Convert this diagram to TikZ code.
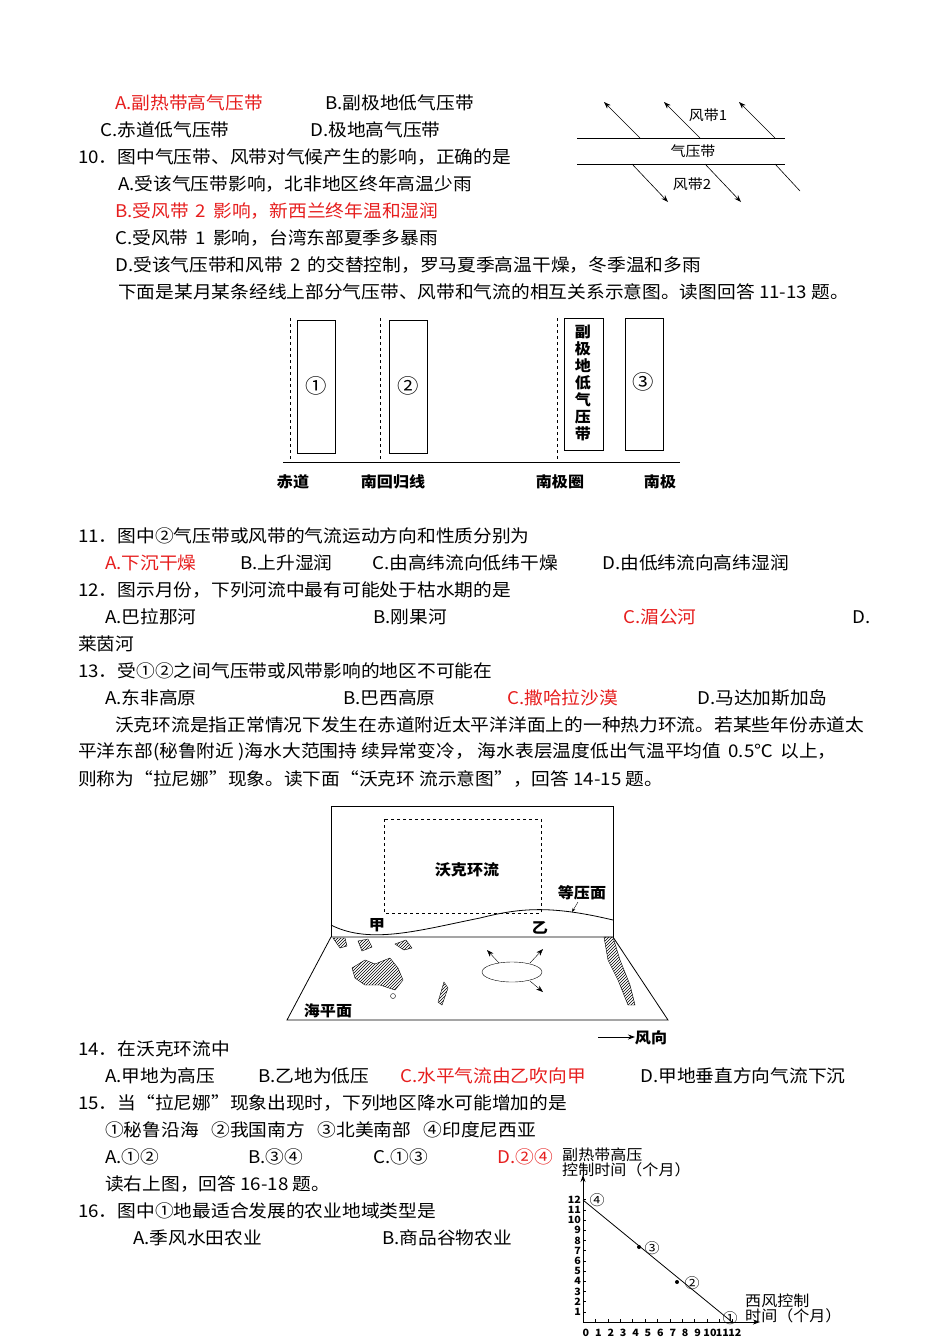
\documentclass[tikz,border=0pt]{standalone}
\usepackage{fontspec}
\setmainfont{Noto Sans CJK SC}[FakeStretch=1.07]
\usetikzlibrary{arrows.meta,patterns}
\definecolor{ans}{RGB}{230,30,30}
\begin{document}
\begin{tikzpicture}[x=1pt,y=-1pt,
 t/.style={anchor=west,inner sep=0,font=\fontsize{17.5}{17.5}\selectfont},
 r/.style={t,text=ans},
 lbl/.style={inner sep=0,font=\fontsize{15}{15}\selectfont\bfseries},
 sm/.style={inner sep=0,font=\fontsize{14}{14}\selectfont},
 arr/.style={-{Stealth[length=7pt,width=5pt]},line width=0.6pt},
 bx/.style={draw,line width=1pt},
 hat/.style={draw,pattern=north east lines}]
\useasboundingbox (0,0) rectangle (950,1342);
% text
\node[r] (a1) at (115,103) {A.副热带高气压带};
\node[t] (b1) at (325,103) {B.副极地低气压带};
\node[t] (c1) at (100,130) {C.赤道低气压带};
\node[t] (d1) at (310,130) {D.极地高气压带};
\node[t] (q10) at (78,157) {10．图中气压带、风带对气候产生的影响，正确的是};
\node[t] (q10a) at (118,184) {A.受该气压带影响，北非地区终年高温少雨};
\node[r] (q10b) at (115,211) {B.受风带 \,2\, 影响，新西兰终年温和湿润};
\node[t] (q10c) at (115,238) {C.受风带 \,1\, 影响，台湾东部夏季多暴雨};
\node[t] (q10d) at (115,265) {D.受该气压带和风带 \,2\, 的交替控制，罗马夏季高温干燥，冬季温和多雨};
\node[t] (intro) at (118,292) {下面是某月某条经线上部分气压带、风带和气流的相互关系示意图。读图回答 11-13 题。};
\node[t] (q11) at (78,536) {11．图中②气压带或风带的气流运动方向和性质分别为};
\node[r] (q11a) at (105,563) {A.下沉干燥};
\node[t] (q11b) at (240,563) {B.上升湿润};
\node[t] (q11c) at (372,563) {C.由高纬流向低纬干燥};
\node[t] (q11d) at (602,563) {D.由低纬流向高纬湿润};
\node[t] (q12) at (78,590) {12．图示月份，下列河流中最有可能处于枯水期的是};
\node[t] (q12a) at (105,617) {A.巴拉那河};
\node[t] (q12b) at (373,617) {B.刚果河};
\node[r] (q12c) at (623,617) {C.湄公河};
\node[t] (q12d) at (852,617) {D.};
\node[t] (q12e) at (78,644) {莱茵河};
\node[t] (q13) at (78,671) {13．受①②之间气压带或风带影响的地区不可能在};
\node[t] (q13a) at (105,698) {A.东非高原};
\node[t] (q13b) at (343,698) {B.巴西高原};
\node[r] (q13c) at (507,698) {C.撒哈拉沙漠};
\node[t] (q13d) at (697,698) {D.马达加斯加岛};
\node[t] (p1) at (115,725) {沃克环流是指正常情况下发生在赤道附近太平洋洋面上的一种热力环流。若某些年份赤道太};
\node[t] (p2) at (78,752) {平洋东部(秘鲁附近 )海水大范围持 续异常变冷， 海水表层温度低出气温平均值 \,0.5℃\, 以上，};
\node[t] (p3) at (78,779) {则称为“拉尼娜”现象。读下面“沃克环 流示意图”，回答 14-15 题。};
\node[t] (q14) at (78,1049) {14．在沃克环流中};
\node[t] (q14a) at (105,1076) {A.甲地为高压};
\node[t] (q14b) at (258,1076) {B.乙地为低压};
\node[r] (q14c) at (400,1076) {C.水平气流由乙吹向甲};
\node[t] (q14d) at (640,1076) {D.甲地垂直方向气流下沉};
\node[t] (q15) at (78,1103) {15．当“拉尼娜”现象出现时，下列地区降水可能增加的是};
\node[t] (q15x) at (105,1130) {①秘鲁沿海 \ \ ②我国南方 \ \ ③北美南部 \ \ ④印度尼西亚};
\node[t] (q15a) at (105,1157) {A.①②};
\node[t] (q15b) at (248,1157) {B.③④};
\node[t] (q15c) at (373,1157) {C.①③};
\node[r] (q15d) at (497,1157) {D.②④};
\node[t] (rd) at (105,1184) {读右上图，回答 16-18 题。};
\node[t] (q16) at (78,1211) {16．图中①地最适合发展的农业地域类型是};
\node[t] (q16a) at (133,1238) {A.季风水田农业};
\node[t] (q16b) at (382,1238) {B.商品谷物农业};
% fig 1
\draw[line width=1pt] (577,138) -- (785,138) (577,164) -- (785,164);
\coordinate (u1) at (640,138); \coordinate (u2) at (700,138); \coordinate (u3) at (775,138);
\coordinate (l1) at (632,164); \coordinate (l2) at (705,164); \coordinate (l3) at (775,164);
\foreach \c in {u1,u2,u3} \draw[arr] (\c) -- ++(-36,-36);
\foreach \c in {l1,l2} \draw[arr] (\c) -- ++(36,38);
\draw[line width=0.6pt] (l3) -- ++(25,27);
\node[sm] (wb1) at (708,115) {风带1};
\node[sm] (pb) at (693,151) {气压带};
\node[sm] (wb2) at (692,184) {风带2};
% fig 2
\draw[bx] (297,320) rectangle (335,453); \node[font=\fontsize{20}{20}\selectfont] (n1) at (316,386) {①};
\draw[bx] (389,320) rectangle (427,453); \node[font=\fontsize{20}{20}\selectfont] (n2) at (408,386) {②};
\draw[bx] (564,318) rectangle (603,450);
\node[inner sep=0,font=\fontsize{15}{17}\selectfont\bfseries,align=center] (sp) at (583,383) {副\\极\\地\\低\\气\\压\\带};
\draw[bx] (625,318) rectangle (663,450); \node[font=\fontsize{20}{20}\selectfont] (n3) at (643,382) {③};
\draw[line width=1pt] (283,462) -- (680,462);
\draw[dashed] (290,318) -- (290,460) (380,318) -- (380,460) (557,318) -- (557,460);
\node[lbl] (e0) at (293,482) {赤道};
\node[lbl] (e1) at (393,482) {南回归线};
\node[lbl] (e2) at (560,482) {南极圈};
\node[lbl] (e3) at (660,482) {南极};
% fig 3 walker
\draw[line width=0.8pt] (331,937) -- (331,806) -- (613,806) -- (613,937);
\draw[dashed] (384,819) rectangle (541,913);
\node[lbl] (wk) at (467,870) {沃克环流};
\draw[line width=0.8pt] (331,925) .. controls (370,945) and (420,930) .. (480,918) .. controls (520,908) and (550,905) .. (613,920);
\node[lbl] (eq) at (582,893) {等压面};
\draw[-{Stealth[length=4pt]}] (578,902) -- (572,912);
\node[lbl] (jia) at (377,925) {甲};
\node[lbl] (yi) at (540,928) {乙};
\draw[line width=0.8pt] (331,937) -- (613,937) -- (668,1020) -- (287,1020) -- cycle;
\draw (512,972) ellipse (30 and 10);
\draw[arr,line width=0.4pt] (499,963) -- (487,950);
\draw[arr,line width=0.4pt] (530,963) -- (543,949);
\draw[arr,line width=0.4pt] (530,981) -- (543,992);
\draw[hat] (333,938) -- (345,938) -- (347,946) -- (340,948) -- cycle;
\draw[hat] (358,941) -- (368,939) -- (372,947) -- (362,951) -- cycle;
\draw[hat] (352,968) -- (365,960) -- (375,964) -- (390,958) -- (398,968) -- (403,980) -- (395,990) -- (380,985) -- (365,985) -- (355,978) -- cycle;
\draw (393,996) circle (2.5);
\draw[hat] (395,944) -- (406,940) -- (412,948) -- (404,950) -- cycle;
\draw[hat] (438,1002) -- (444,982) -- (448,988) -- (442,1005) -- cycle;
\draw[hat] (604,937) -- (613,937) -- (620,960) -- (630,985) -- (635,1005) -- (628,1005) -- (618,980) -- (608,960) -- cycle;
\node[lbl] (sea) at (328,1011) {海平面};
\coordinate (wa) at (598,1037);
\draw[arr,line width=0.8pt] (wa) -- ++(37,0);
\node[lbl] (fx) at (651,1038) {风向};
% fig 4 graph
\coordinate (o) at (583,1322);
\draw[arr,line width=0.8pt] (o) -- (583,1175);
\draw[arr,line width=0.8pt] (o) -- (760,1322);
\foreach \i in {1,...,12} {
 \draw (583,1322-10.2*\i) -- ++(3,0);
 \node[inner sep=0,font=\fontsize{10}{10}\selectfont\bfseries,anchor=east] at (581,1322-10.2*\i) {\i};
 \draw (583+12.4*\i,1322) -- ++(0,-3);
}
\foreach \i in {0,...,12} \node[inner sep=0,font=\fontsize{10}{10}\selectfont\bfseries] at (586+12.4*\i,1333) {\i};
\draw[line width=0.8pt] (583,1200) -- (732,1322);
\fill (639,1247) circle (2); \fill (677,1282) circle (2);
\node[sm] (g4) at (597,1200) {④};
\node[sm] (g3) at (652,1248) {③};
\node[sm] (g2) at (692,1283) {②};
\node[sm] (g1) at (730,1318) {①};
\node[inner sep=0,font=\fontsize{15}{15}\selectfont,anchor=west,align=left] (yl) at (562,1162) {副热带高压\\控制时间（个月）};
\node[inner sep=0,font=\fontsize{15}{15}\selectfont,anchor=west,align=left] (xl) at (745,1308) {西风控制\\时间（个月）};
\end{tikzpicture}
\end{document}
